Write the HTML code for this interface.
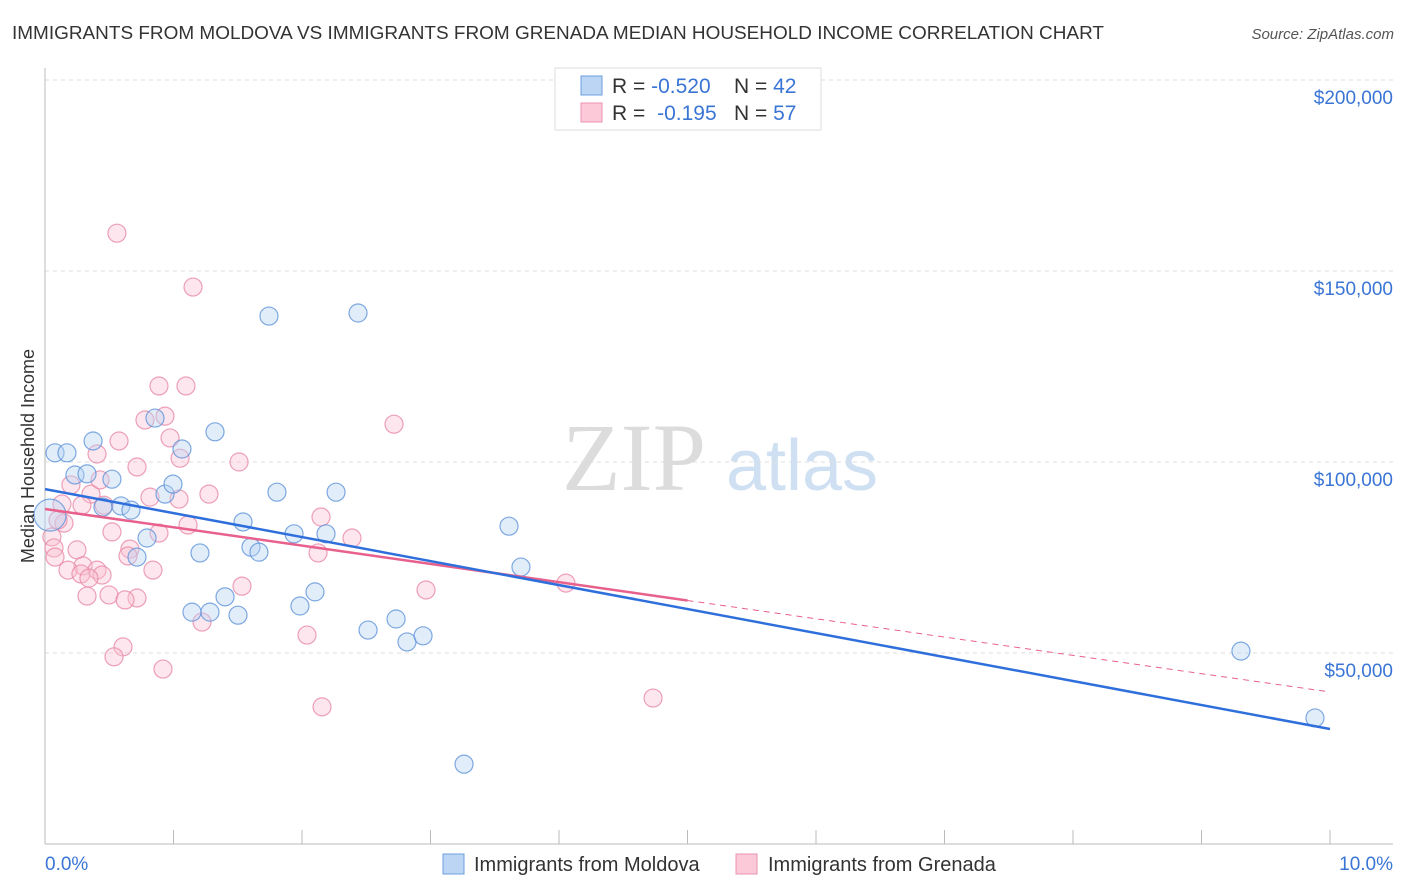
<!DOCTYPE html>
<html><head><meta charset="utf-8"><style>
body{margin:0;background:#fff;font-family:"Liberation Sans",sans-serif;}
svg{display:block}
</style></head><body>
<svg id="chart" width="1406" height="892" xmlns="http://www.w3.org/2000/svg">
<text x="12" y="39" font-size="18" fill="#333" textLength="1092" lengthAdjust="spacingAndGlyphs">IMMIGRANTS FROM MOLDOVA VS IMMIGRANTS FROM GRENADA MEDIAN HOUSEHOLD INCOME CORRELATION CHART</text>
<text x="1394" y="39" font-size="15" fill="#555" font-style="italic" text-anchor="end">Source: ZipAtlas.com</text>
<g>
<text x="634" y="490" font-size="96" font-family="Liberation Serif,serif" fill="#dcdcdc" text-anchor="middle">ZIP</text>
<text x="802" y="490" font-size="72" fill="#cfe0f3" text-anchor="middle">atlas</text>
</g>
<g id="grid"></g>
<g id="axes"></g>
<g id="marks"></g>
<text transform="translate(34,456) rotate(-90)" font-size="18" fill="#333" text-anchor="middle">Median Household Income</text>
<g>
<rect x="555" y="68" width="266" height="62" fill="#fff" stroke="#ddd"/>
<rect x="581" y="76" width="21" height="19" fill="#bcd5f5" stroke="#6c9fe0"/>
<rect x="581" y="103" width="21" height="19" fill="#fcc9d8" stroke="#ec93b0"/>
<text x="612" y="93" font-size="21" fill="#333">R = <tspan fill="#3a75d6">-0.520</tspan></text>
<text x="734" y="93" font-size="21" fill="#333">N = <tspan fill="#3a75d6">42</tspan></text>
<text x="612" y="120" font-size="21" fill="#333">R = <tspan fill="#3a75d6" dx="6">-0.195</tspan></text>
<text x="734" y="120" font-size="21" fill="#333">N = <tspan fill="#3a75d6">57</tspan></text>
</g>
<g>
<rect x="443" y="854" width="21" height="20" fill="#bcd5f5" stroke="#6c9fe0"/>
<text x="474" y="871" font-size="20" fill="#333">Immigrants from Moldova</text>
<rect x="736" y="854" width="21" height="20" fill="#fcc9d8" stroke="#ec93b0"/>
<text x="768" y="871" font-size="20" fill="#333">Immigrants from Grenada</text>
</g>
</svg>
<script>
const yTicks=[50000,100000,150000,200000];
const yTickLabels=["$50,000","$100,000","$150,000","$200,000"];
const xTickLabels=["0.0%","10.0%"];
const moldovaX=[.078,.171,.374,.233,.327,.521,.451,.591,.669,.716,.794,.856,.934,.996,1.066,1.323,1.206,1.144,1.284,1.401,1.502,1.541,1.603,1.665,1.743,1.805,1.938,1.984,2.101,2.187,2.265,2.436,2.514,2.732,2.817,2.942,3.261,3.611,3.704,9.307,9.883,.039];
const moldovaY=[102400,102400,105500,96600,96900,95500,88200,88500,87400,75100,80100,111500,91600,94200,103400,107900,76200,60700,60700,64700,59900,84300,77700,76400,138200,92100,81200,62300,66000,81200,92100,139000,56000,58900,52900,54500,20900,83200,72500,50500,33000,86100];
const grenadaX=[.560,1.152,.887,1.097,2.716,.934,.778,.973,.576,1.051,1.510,.405,.716,.202,.358,1.276,.817,1.043,.459,.132,.148,1.113,2.148,2.389,2.125,.054,.070,.249,.887,.521,.661,.078,.296,.646,.179,.405,.280,.444,.342,.840,1.533,.327,.498,.716,.623,2.965,4.054,1.222,2.039,.607,.537,.918,2.156,4.732,.288,.101,.428];
const grenadaY=[159900,145800,119900,119900,109900,112000,111000,106300,105500,101000,100000,102100,98700,94000,91600,91600,90800,90300,88700,89000,84000,83500,85600,80100,76200,80400,77500,77000,81400,81700,77200,75100,72800,75400,71700,71700,70700,70400,69600,71700,67500,64900,65200,64400,63900,66500,68300,58100,54700,51600,49000,45800,35900,38200,88700,84800,95300];
const moldovaTrend=[92900,30100];
const grenadaTrend=[87700,39800];
const grenadaSolidEnd=5.0;

const NS="http://www.w3.org/2000/svg";
const X=v=>45+v*128.5;
const Y=v=>844-v/50000*191;
function mk(tag,attrs,parent){const e=document.createElementNS(NS,tag);for(const k in attrs)e.setAttribute(k,attrs[k]);parent.appendChild(e);return e;}
const grid=document.getElementById('grid'),axes=document.getElementById('axes'),marks=document.getElementById('marks');
yTicks.forEach((t,i)=>{
  const l=mk('line',{x1:45,x2:1393,y1:Y(t),y2:Y(t),stroke:'#ddd','stroke-dasharray':'4,4'},grid);
  
  
  const tx=mk('text',{x:1393,y:Y(t)+24,'font-size':19,fill:'#3a75d6','text-anchor':'end'},axes);
  tx.textContent=yTickLabels[i];
  
  
});
const ax=mk('line',{x1:45,x2:45,y1:68,y2:844,stroke:'#bbb'},axes);


const bx=mk('line',{x1:45,x2:1393,y1:844,y2:844,stroke:'#bbb'},axes);


for(let k=0;k<=10;k++){
  const t=mk('line',{x1:X(k),x2:X(k),y1:830,y2:844,stroke:'#bbb'},axes);
  
  
}
[[0,'start'],[10,'end']].forEach((p,i)=>{
  const t=mk('text',{x:i?1393:45,y:870,'font-size':19,fill:'#3a75d6','text-anchor':p[1]},axes);
  t.textContent=xTickLabels[i];
  
  
});
function pts(xs,ys,fill,stroke,name){
  xs.forEach((x,i)=>{
    const c=mk('circle',{cx:X(x),cy:Y(ys[i]),r:(name==='moldova-point'&&i===xs.length-1)?16:9,fill:fill,'fill-opacity':0.4,stroke:stroke,'stroke-opacity':0.8,'stroke-width':1.2},marks);
    
    
  });
}
pts(grenadaX,grenadaY,'#fbc1d3','#e88aa8','grenada-point');
pts(moldovaX,moldovaY,'#b7d1f3','#5f93da','moldova-point');
const gAt=x=>grenadaTrend[0]+(grenadaTrend[1]-grenadaTrend[0])*x/10;
const gs=mk('line',{x1:X(0),y1:Y(gAt(0)),x2:X(grenadaSolidEnd),y2:Y(gAt(grenadaSolidEnd)),stroke:'#e8608c','stroke-width':2.5},marks);


const gd=mk('line',{x1:X(grenadaSolidEnd),y1:Y(gAt(grenadaSolidEnd)),x2:X(10),y2:Y(gAt(10)),stroke:'#e8608c','stroke-width':1,'stroke-dasharray':'6,5'},marks);


const mt=mk('line',{x1:X(0),y1:Y(moldovaTrend[0]),x2:X(10),y2:Y(moldovaTrend[1]),stroke:'#2f6fdc','stroke-width':2.5},marks);


</script>
</body></html>
